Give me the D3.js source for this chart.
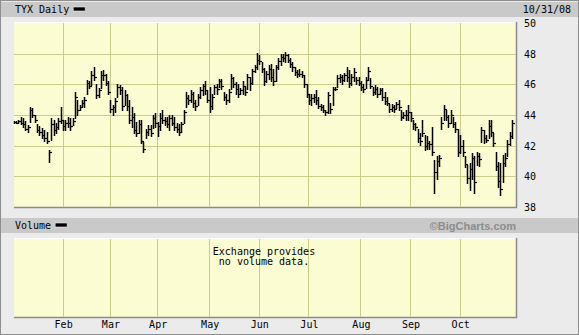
<!DOCTYPE html>
<html>
<head>
<meta charset="utf-8">
<script src="https://cdn.jsdelivr.net/npm/d3@7"></script>
<style>
  body { margin: 0; background: #ebebeb; }
  svg { display: block; }
  text { font-family: "DejaVu Sans Mono", monospace; font-size: 10px; fill: #000; }
</style>
</head>
<body>
<svg id="chart"></svg>
<script>
// TYX daily, Jan 2 - Oct 31 2008, one row per month
var high = [
  43.6,43.6,43.65,43.85,43.8,43.6,43.35,44.55,44.45,44.0,43.4,43.3,43.15,43.0,42.9,41.75,43.8,43.7,43.45,43.8,44.55,
  43.7,43.7,43.9,43.8,43.8,45.5,45.0,44.65,45.0,45.2,46.3,46.2,46.85,47.15,46.0,45.75,46.85,46.95,46.7,46.2,
  45.0,44.65,45.1,46.05,45.95,45.85,45.6,45.4,45.0,44.55,44.1,43.55,43.65,43.65,42.25,43.1,43.35,43.35,44.0,44.1,
  43.55,44.1,44.35,43.9,43.9,44.0,44.0,43.9,43.45,43.4,43.55,44.35,45.5,45.3,45.65,45.5,45.0,45.4,45.85,46.05,46.2,45.65,
  45.85,45.4,45.95,46.05,46.35,46.35,45.5,45.4,45.7,46.7,46.5,46.15,46.05,45.75,46.25,45.85,46.7,46.45,47.0,47.25,48.05,
  47.9,47.45,47.05,46.9,47.25,47.35,47.0,47.25,47.7,47.95,48.0,48.1,48.0,47.75,47.45,47.15,46.95,47.0,46.9,46.6,46.05,
  45.4,45.4,45.4,45.65,45.2,44.75,44.65,44.35,45.5,44.8,45.85,45.85,46.6,46.7,46.6,46.75,47.15,46.95,46.7,47.05,46.5,46.5,
  46.2,46.0,46.5,47.15,46.4,45.85,45.95,45.85,45.75,45.75,45.5,45.2,44.75,44.75,44.65,44.85,45.0,44.35,44.2,44.35,44.65,
  44.2,43.65,43.45,43.1,42.8,43.65,42.7,42.6,42.3,43.25,41.05,41.3,41.4,43.9,44.65,44.35,44.0,44.35,43.9,43.55,43.1,
  42.7,42.4,41.3,40.75,40.85,41.5,41.3,41.6,41.5,43.25,43.0,42.7,43.65,43.65,42.8,41.6,40.95,40.85,41.4,41.5,42.35,42.9,43.65
];
var low = [
  43.5,43.45,43.5,43.4,43.25,43.0,42.9,43.55,43.9,43.55,42.9,42.7,42.5,42.3,42.15,40.95,42.4,42.7,42.8,43.1,43.45,
  43.0,43.05,43.25,43.05,43.35,43.8,44.0,44.3,44.6,44.5,45.4,45.75,45.95,46.3,45.1,45.2,45.75,46.3,45.95,45.4,
  44.2,44.0,44.2,45.2,45.4,44.35,44.65,44.35,43.45,43.25,42.8,42.6,42.8,42.15,41.6,42.5,42.7,42.6,43.15,43.25,
  42.6,43.0,43.45,43.35,43.25,43.0,43.35,43.0,42.9,42.7,42.9,43.45,44.55,44.75,44.85,44.55,44.35,44.65,45.1,45.3,45.4,44.85,
  44.2,44.4,45.4,45.4,45.8,45.7,44.95,44.75,44.85,45.7,45.85,45.4,45.15,45.4,45.4,45.3,45.7,45.6,46.05,46.8,47.0,
  47.35,46.8,45.95,46.15,46.35,46.25,45.95,46.25,47.0,47.25,47.55,47.45,47.45,47.1,46.9,46.6,46.45,46.55,46.45,45.8,45.15,
  44.75,44.65,44.85,44.75,44.45,44.3,44.2,44.0,44.1,44.1,44.65,45.6,45.85,46.15,46.05,46.25,46.2,45.85,45.95,46.2,46.05,45.95,
  45.6,45.5,45.75,46.3,45.75,45.3,45.4,45.2,45.4,45.0,44.75,44.65,44.2,44.25,44.2,44.45,44.35,43.65,43.8,43.65,43.65,
  43.6,43.1,43.0,42.25,42.05,42.6,41.75,41.8,41.8,41.4,38.9,39.85,40.65,43.1,43.7,43.65,43.25,43.45,43.25,42.9,41.3,
  41.5,41.3,40.6,39.55,39.1,39.85,38.9,40.75,40.65,42.25,42.15,42.25,42.5,42.6,41.95,40.4,39.3,38.8,39.65,40.65,41.3,42.05,42.5
];
var close = [
  43.55,43.5,43.6,43.5,43.4,43.1,43.2,44.3,44.0,43.7,43.0,42.9,42.7,42.5,42.3,41.6,43.4,43.0,43.2,43.6,43.7,
  43.3,43.5,43.5,43.3,43.6,45.2,44.3,44.5,44.8,45.0,46.1,45.9,46.6,46.5,45.3,45.6,46.6,46.6,46.1,45.5,
  44.4,44.5,44.9,45.8,45.6,44.6,45.3,44.6,43.7,43.9,43.0,42.8,43.4,42.3,41.8,42.9,43.1,42.8,43.8,43.5,
  43.3,43.8,43.7,43.6,43.4,43.8,43.5,43.2,43.1,42.9,43.4,44.2,45.1,45.0,45.4,44.8,44.6,45.2,45.6,45.9,45.6,45.0,
  44.6,45.2,45.8,45.7,46.2,45.9,45.2,45.0,45.5,46.4,46.0,45.7,45.4,45.6,45.9,45.5,46.5,46.1,46.9,47.1,47.6,
  47.5,47.0,46.2,46.7,47.0,46.5,46.2,47.1,47.5,47.8,47.7,47.9,47.6,47.3,47.1,46.8,46.7,46.7,46.6,46.0,45.4,
  45.0,45.1,45.2,45.0,44.6,44.5,44.3,44.2,45.3,44.4,45.7,45.7,46.4,46.5,46.3,46.6,46.5,46.1,46.5,46.8,46.3,46.1,
  45.8,45.7,46.3,46.9,45.9,45.5,45.7,45.4,45.6,45.2,44.9,44.8,44.4,44.5,44.4,44.7,44.5,43.9,44.0,44.0,44.2,
  43.8,43.4,43.2,42.5,42.3,42.8,42.0,42.2,42.1,41.6,40.3,41.0,41.2,43.5,44.4,43.9,43.5,44.0,43.4,43.1,41.6,
  42.0,41.6,40.8,39.9,40.5,41.2,39.6,41.3,41.1,43.0,42.5,42.4,43.3,42.9,42.2,40.7,39.7,39.2,40.9,41.2,42.1,42.6,43.5
];

var monthLabels = ["Feb", "Mar", "Apr", "May", "Jun", "Jul", "Aug", "Sep", "Oct"];
var monthStart = [21, 41, 61, 83, 104, 125, 147, 168, 189];   // trading-day index of 1st session
var priceTicks = [38, 40, 42, 44, 46, 48, 50];
var dayCount = 212;

var W = 579, H = 335;
var plot = { left: 14, right: 516, top: 23, bottom: 207 };
var vol = { top: 238, bottom: 317 };

var bg = "#fcfcd2", grid = "#cbcb8a", band = "#c9c9c9";

var svg = d3.select("#chart")
    .attr("width", W)
    .attr("height", H);

svg.append("rect")
    .attr("x", 0.5).attr("y", 0.5)
    .attr("width", W - 1).attr("height", H - 1)
    .attr("fill", "#ebebeb")
    .attr("stroke", "#8e8e8e");

var x = d3.scaleLinear()
    .domain([0, dayCount])
    .range([13.5, 514.5]);

var y = d3.scaleLinear()
    .domain([38, 50])
    .range([plot.bottom, plot.top]);

function px(v) { return Math.round(v) + 0.5; }

// header bands
function headerBand(top, label) {
    svg.append("rect")
        .attr("x", 1).attr("y", top)
        .attr("width", W - 2).attr("height", 15)
        .attr("fill", band);
    svg.append("text")
        .attr("x", 15).attr("y", top + 11)
        .text(label);
    var w = label.length * 6.02;
    svg.append("rect")
        .attr("x", 15 + w + 4).attr("y", top + 5)
        .attr("width", 12).attr("height", 4)
        .attr("fill", "#000")
        .attr("stroke", "#eee")
        .attr("stroke-width", 0.6);
}
headerBand(2, "TYX Daily");
headerBand(218, "Volume");

svg.append("text")
    .attr("x", 571).attr("y", 13)
    .attr("text-anchor", "end")
    .text("10/31/08");

svg.append("text")
    .attr("x", 516).attr("y", 229.5)
    .attr("text-anchor", "end")
    .style("font-family", "'Liberation Sans', Arial, sans-serif")
    .style("font-weight", "bold")
    .style("font-size", "11px")
    .style("fill", "#8d8d8d")
    .text("\u00a9BigCharts.com");

// panel backgrounds
function panel(top, bottom) {
    svg.append("rect")
        .attr("x", plot.left).attr("y", top)
        .attr("width", plot.right - plot.left).attr("height", bottom - top)
        .attr("fill", bg);
    svg.append("path")
        .attr("d", "M" + plot.left + "," + (top + 0.5) + "H" + plot.right)
        .attr("stroke", "#fff").attr("fill", "none");
    svg.append("path")
        .attr("d", "M" + plot.left + "," + (bottom + 0.5) + "H" + (plot.right + 1) +
                   "M" + (plot.right + 0.5) + "," + top + "V" + (bottom + 1))
        .attr("stroke", "#8a8a8a").attr("stroke-width", 1.5).attr("fill", "none");
}
panel(plot.top - 1, plot.bottom);
panel(vol.top, vol.bottom);

// gridlines
svg.append("g")
    .selectAll("line")
    .data(priceTicks.filter(function(d) { return d > 38 && d < 50; }))
    .enter().append("line")
    .attr("x1", plot.left).attr("x2", plot.right)
    .attr("y1", function(d) { return px(y(d)); })
    .attr("y2", function(d) { return px(y(d)); })
    .attr("stroke", grid);

[[plot.top, plot.bottom], [vol.top + 1, vol.bottom]].forEach(function(r) {
    svg.append("g")
        .selectAll("line")
        .data(monthStart)
        .enter().append("line")
        .attr("x1", function(d) { return px(x(d) - 0.5); })
        .attr("x2", function(d) { return px(x(d) - 0.5); })
        .attr("y1", r[0]).attr("y2", r[1])
        .attr("stroke", grid);
});

// right price axis
var yAxis = d3.axisRight(y)
    .tickValues(priceTicks)
    .tickSize(0)
    .tickPadding(0)
    .tickFormat(d3.format("d"));

var yg = svg.append("g")
    .attr("transform", "translate(524,0)")
    .call(yAxis);
yg.select(".domain").remove();
yg.selectAll("text")
    .style("font-family", "'DejaVu Sans Mono', monospace")
    .style("font-size", "10px")
    .attr("dy", "0.35em");

// month axis
var xAxis = d3.axisBottom(x)
    .tickValues(monthStart)
    .tickSize(0)
    .tickPadding(0)
    .tickFormat(function(d, i) { return monthLabels[i]; });

var xg = svg.append("g")
    .attr("transform", "translate(0,321)")
    .call(xAxis);
xg.select(".domain").remove();
xg.selectAll("text")
    .style("font-family", "'DejaVu Sans Mono', monospace")
    .style("font-size", "10px")
    .attr("dy", "0.71em");

// OHLC bars (high-low + close tick)
var days = d3.range(dayCount);
var bars = svg.append("g")
    .attr("stroke", "#000")
    .attr("fill", "none");

bars.selectAll("line.hl")
    .data(days)
    .enter().append("line")
    .attr("class", "hl")
    .attr("x1", function(d) { return px(x(d)); })
    .attr("x2", function(d) { return px(x(d)); })
    .attr("y1", function(d) { return Math.round(y(high[d])); })
    .attr("y2", function(d) { return Math.round(y(low[d])) + 1; })
    .attr("stroke-width", 1.5);

bars.selectAll("line.cl")
    .data(days)
    .enter().append("line")
    .attr("class", "cl")
    .attr("x1", function(d) { return px(x(d)); })
    .attr("x2", function(d) { return px(x(d)) + 2.5; })
    .attr("y1", function(d) { return px(y(close[d])); })
    .attr("y2", function(d) { return px(y(close[d])); })
    .attr("stroke-width", 1.2);

// no-volume note
var note = svg.append("text")
    .attr("x", 264)
    .attr("y", 255)
    .attr("text-anchor", "middle");
note.append("tspan").attr("x", 264).text("Exchange provides");
note.append("tspan").attr("x", 264).attr("dy", 9.5).text("no volume data.");
</script>
</body>
</html>
